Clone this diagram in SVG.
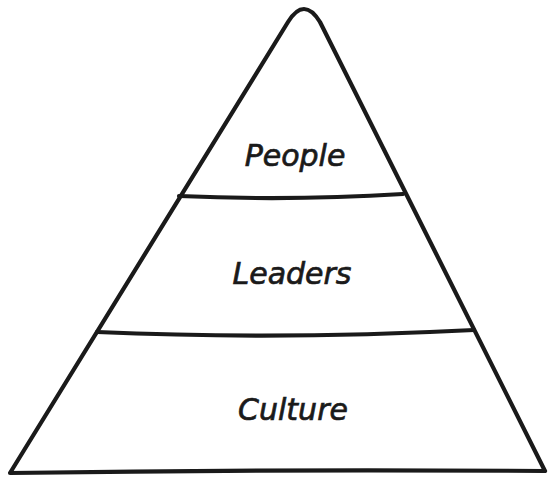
<svg xmlns="http://www.w3.org/2000/svg" width="548" height="483" viewBox="0 0 548 483">
<style>
.ln{fill:none;stroke:#1a1a1a;stroke-width:4.2;stroke-linecap:round;stroke-linejoin:round}
.lb{font-family:"DejaVu Sans",sans-serif;font-style:italic;font-size:30px;fill:#1a1a1a;stroke:#1a1a1a;stroke-width:0.7;text-anchor:middle}
</style>
<rect width="548" height="483" fill="#fff"/>
<g id="pyramid">
<path class="ln" d="M 10 473 L 288 22 Q 304 -4 320 22 L 545 471 Q 280 469 10 473 Z"/>
</g>
<g id="connectors">
<path class="ln" d="M 179 196 Q 290 201 403 194"/>
<path class="ln" d="M 97 332 Q 280 340 474 330"/>
</g>
<g id="node-people"><text class="lb" x="295" y="166">People</text></g>
<g id="node-leaders"><text class="lb" x="292" y="284">Leaders</text></g>
<g id="node-culture"><text class="lb" x="293" y="420">Culture</text></g>
</svg>
